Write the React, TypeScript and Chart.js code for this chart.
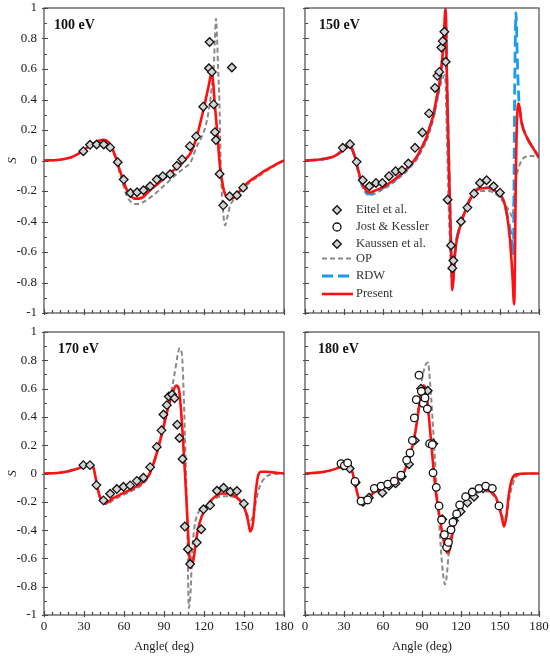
import React, { useEffect, useRef } from 'react';
import { Chart, registerables } from 'chart.js';

Chart.register(...registerables);

const FONT = "'Liberation Serif', 'Times New Roman', serif";
Chart.defaults.font.family = FONT;

// ---------- 100 eV ----------
const PRESENT_100_X = [0,10,20,25,30,35,40,44,47,50,53,56,59,62,65,68,71,75,80,85,90,95,100,105,110,114.5,119.5,123.3,125.8,127,128,129,130,131,132,133.5,135,137,139.5,142,145,149.5,155,160,165,170,175,180];
const PRESENT_100_Y = [0,0.003,0.02,0.04,0.07,0.1,0.125,0.135,0.13,0.1,0.04,-0.04,-0.12,-0.19,-0.23,-0.25,-0.25,-0.235,-0.19,-0.155,-0.118,-0.08,-0.045,0,0.05,0.155,0.33,0.48,0.575,0.5,0.38,0.28,0.18,0.06,-0.04,-0.13,-0.2,-0.24,-0.256,-0.245,-0.22,-0.17,-0.13,-0.1,-0.07,-0.045,-0.02,0];
const OP_100_X = [0,10,20,30,40,44,47,50,53,56,59,62,65,68,71,75,80,85,90,95,100,105,110,114.5,118,121,123,124.8,126,127.3,128.2,129,129.8,130.6,131.5,132.5,133.3,134.2,135.8,137.5,139.5,142,145,150,155,160,165,170,175,180];
const OP_100_Y = [0,0.003,0.02,0.065,0.115,0.125,0.12,0.09,0.03,-0.06,-0.15,-0.23,-0.27,-0.285,-0.285,-0.27,-0.24,-0.205,-0.165,-0.125,-0.085,-0.05,-0.01,0.09,0.15,0.22,0.3,0.4,0.5,0.61,0.8,0.93,0.8,0.6,0.4,0,-0.2,-0.32,-0.425,-0.37,-0.3,-0.26,-0.23,-0.18,-0.14,-0.11,-0.08,-0.05,-0.025,0];
const KAUSSEN_100_X = [29.5,34.5,39.5,44.8,49.6,55.3,59.8,64.8,69.8,74.6,79.6,84.6,89.1,94.6,99.6,103.6,109.4,114.1,119.4,123.7,124.2,125.9,127.2,128.2,128.9,131.7,134.4,139.2,140.9,144.7,149.4];
const KAUSSEN_100_Y = [0.061,0.103,0.105,0.105,0.086,-0.011,-0.125,-0.213,-0.208,-0.195,-0.169,-0.125,-0.103,-0.09,-0.035,0.007,0.094,0.158,0.353,0.605,0.777,0.581,0.368,0.186,0.134,-0.088,-0.294,-0.235,0.61,-0.228,-0.178];

// ---------- 150 eV ----------
const PRESENT_150_X = [0,10,20,25,29,33,35,36.5,38.4,41,43.5,46.9,49.5,53,57.7,63,68,73,78.2,82,85.9,90,93.6,96,98.7,101,103.8,106.4,108.2,109,110.1,111.4,112.7,113.3,114.1,115.4,116.7,119.2,124.4,129.5,134.6,141,147.4,152.6,155.6,157.7,159.5,160.9,162.3,163.3,164.5,166.7,170.5,175.6,180];
const PRESENT_150_Y = [0,0.005,0.02,0.04,0.068,0.09,0.096,0.07,0.024,-0.064,-0.14,-0.195,-0.21,-0.2,-0.184,-0.16,-0.13,-0.095,-0.053,-0.02,0.024,0.09,0.156,0.22,0.298,0.4,0.528,0.748,1.0,0.61,0.18,-0.26,-0.7,-0.85,-0.786,-0.61,-0.523,-0.436,-0.305,-0.217,-0.184,-0.18,-0.206,-0.26,-0.37,-0.523,-0.742,-0.943,-0.04,0.31,0.374,0.243,0.155,0.079,0.02];
const RDW_150_X = [0,10,20,25,29,33,35,36.5,38.4,41,43.5,46.9,49.5,53,57.7,63,68,73,78.2,82,85.9,90,93.6,96,98.7,101,103.8,106.4,108.2,109,110.1,111.4,112.7,113.3,114.1,115.4,116.7,119.2,124.4,129.5,134.6,141,147.4,152.6,155.6,157.7,159.2,160.3,160.8,161.4,162.3,163.2,164.2,165,167,170.5,175.6,180];
const RDW_150_Y = [0,0.005,0.02,0.04,0.066,0.088,0.094,0.068,0.02,-0.07,-0.15,-0.205,-0.22,-0.21,-0.19,-0.165,-0.135,-0.1,-0.058,-0.025,0.02,0.085,0.15,0.215,0.29,0.39,0.51,0.72,0.95,0.6,0.18,-0.26,-0.68,-0.82,-0.77,-0.6,-0.515,-0.43,-0.3,-0.212,-0.18,-0.178,-0.205,-0.26,-0.36,-0.45,-0.52,-0.62,-0.1,0.55,0.97,0.7,0.45,0.34,0.24,0.155,0.079,0.02];
const OP_150_X = [0,10,20,25,29,33,35,36.5,38.4,41,43.5,46.9,50,53,57.7,63,68,73,78.2,82,85.9,90,93.6,96,98.7,101,103.8,106,107.7,109,110.5,112,113.3,114.5,116,119.2,124.4,129.5,134.6,141,147.4,152.6,155.6,157.7,159.5,161.5,163,165,168.7,175,180];
const OP_150_Y = [0,0.005,0.02,0.04,0.065,0.087,0.092,0.065,0.015,-0.075,-0.16,-0.215,-0.228,-0.22,-0.2,-0.175,-0.145,-0.11,-0.07,-0.035,0.005,0.07,0.13,0.19,0.27,0.36,0.48,0.54,0.56,0.2,-0.3,-0.65,-0.75,-0.7,-0.55,-0.43,-0.31,-0.23,-0.2,-0.2,-0.225,-0.27,-0.31,-0.34,-0.37,-0.17,-0.09,-0.03,0.02,0.03,0.02];
const KAUSSEN_150_X = [29.0,34.6,39.7,44.4,49.5,54.6,59.5,64.6,69.7,74.6,79.5,84.6,90.3,95.4,100,101.8,103.3,104.9,105.9,107.2,108.2,109.7,112.3,113.3,114.1,120,124.9,130,134.6,139.7,145.1,150];
const KAUSSEN_150_Y = [0.083,0.107,-0.009,-0.129,-0.169,-0.147,-0.147,-0.103,-0.07,-0.064,-0.02,0.083,0.184,0.309,0.476,0.555,0.581,0.741,0.783,0.844,0.647,-0.257,-0.557,-0.706,-0.656,-0.4,-0.309,-0.217,-0.147,-0.129,-0.169,-0.211];

// ---------- 170 eV ----------
const PRESENT_170_X = [0,10,16.5,23,29,34.5,37.3,39.5,41.5,44,46,51.6,59,66.6,74.1,79,84.1,89.1,92.9,96.6,99.1,101.1,102.6,104.1,105.6,107.1,108.6,110.1,112.1,114.1,116.6,120.4,126.7,134.2,141.7,146.7,150.4,152.9,154.7,156.7,158.7,160.4,162.9,166.7,174.2,180];
const PRESENT_170_Y = [0,0.004,0.012,0.028,0.047,0.066,0.035,-0.07,-0.152,-0.2,-0.211,-0.176,-0.141,-0.106,-0.063,-0.005,0.129,0.305,0.457,0.574,0.621,0.598,0.469,0.258,0.023,-0.234,-0.516,-0.668,-0.61,-0.469,-0.352,-0.258,-0.176,-0.141,-0.152,-0.188,-0.246,-0.328,-0.41,-0.352,-0.141,-0.023,0.012,0.012,0.005,0];
const OP_170_X = [0,10,16.5,23,29,34.5,37.3,39.5,41.5,44,46,48,51.6,59,66.6,74.1,79,84.1,89.1,94.1,97.9,100.4,101.6,103.4,104.6,105.6,106.6,107.6,108.6,109.9,111.1,112.9,115.4,120.4,126.7,134.2,141.7,148,152,154.9,156.7,159.2,161.7,166.7,171.7,180];
const OP_170_Y = [0,0.004,0.012,0.027,0.045,0.062,0.03,-0.075,-0.16,-0.208,-0.218,-0.215,-0.19,-0.155,-0.12,-0.075,-0.015,0.12,0.33,0.516,0.703,0.844,0.886,0.844,0.61,0.305,-0.047,-0.445,-0.95,-0.844,-0.563,-0.375,-0.281,-0.24,-0.185,-0.16,-0.165,-0.2,-0.28,-0.328,-0.305,-0.188,-0.094,-0.023,-0.005,0];
const EITEL_170_X = [29.5,34.5,39.3,44.6,49.6,54.6,59.6,64.6,69.6,74.6,79.6,84.6,88.1,89.6,92.1,93.6,96.1,97.9,99.9,101.6,103.9,105.6,107.9,109.6,114.6,117.9,119.6,124.6,129.7,134.7,139.7,144.7,149.9];
const EITEL_170_Y = [0.059,0.059,-0.082,-0.19,-0.143,-0.11,-0.094,-0.084,-0.052,-0.03,0.045,0.188,0.305,0.417,0.483,0.544,0.558,0.532,0.345,0.251,0.103,-0.375,-0.535,-0.64,-0.488,-0.394,-0.253,-0.225,-0.122,-0.101,-0.129,-0.124,-0.213];

// ---------- 180 eV ----------
const PRESENT_180_X = [0,10,18.5,27.7,32.6,34.4,36.4,38.5,41,43.6,46.7,51.8,59.5,67.2,73.6,77.4,81.3,85.1,87.7,89.7,91,92.8,94.6,96.7,98.5,100.5,103.1,105.6,107.7,109.5,111.3,113.3,115.9,119.7,124.9,131.3,137.7,142.8,146.7,149.2,151.3,153.1,154.9,156.9,159.5,163.3,169.7,180];
const PRESENT_180_Y = [0,0.006,0.019,0.047,0.066,0.059,0.012,-0.07,-0.164,-0.199,-0.187,-0.141,-0.1,-0.07,-0.028,0.035,0.141,0.304,0.468,0.585,0.621,0.597,0.468,0.258,0.07,-0.117,-0.281,-0.422,-0.515,-0.562,-0.539,-0.433,-0.328,-0.246,-0.176,-0.129,-0.112,-0.129,-0.164,-0.234,-0.304,-0.375,-0.304,-0.141,-0.035,-0.005,0,0];
const OP_180_X = [0,10,18.5,27.7,32.6,34.4,36.4,38.5,41,43.6,46.7,51.8,59.5,67.2,73.6,77.4,81.3,85.1,89,92,94.6,96.1,97.9,100,102.3,104.4,106.1,107.7,109,110.8,112.8,115.9,120,125,130,138,143,147,150,153,155,157,160,163,168,180];
const OP_180_Y = [0,0.006,0.018,0.045,0.062,0.055,0.008,-0.075,-0.17,-0.205,-0.195,-0.15,-0.11,-0.078,-0.035,0.03,0.14,0.31,0.61,0.75,0.785,0.656,0.42,0.094,-0.234,-0.515,-0.703,-0.785,-0.726,-0.539,-0.398,-0.304,-0.26,-0.19,-0.15,-0.125,-0.14,-0.18,-0.25,-0.32,-0.3,-0.18,-0.07,-0.02,-0.005,0];
const JOST_180_X = [27.7,30.3,32.8,38.5,43.1,48.2,53.3,58.5,63.6,68.7,73.8,78.2,80.8,82.6,84.1,85.6,87.7,89.5,91.0,92.3,94.1,95.9,97.9,98.5,101.0,103.1,105.1,107.2,109.0,110.3,112.3,113.8,116.7,119.0,123.6,128.7,133.8,139.0,144.1,149.2];
const JOST_180_Y = [0.07,0.056,0.075,-0.056,-0.195,-0.187,-0.105,-0.089,-0.075,-0.054,-0.012,0.094,0.145,0.234,0.393,0.522,0.695,0.581,0.496,0.534,0.457,0.211,0.204,0.005,-0.098,-0.229,-0.328,-0.433,-0.522,-0.487,-0.398,-0.344,-0.286,-0.222,-0.164,-0.131,-0.105,-0.089,-0.105,-0.229];
const KAUSSEN_180_X = [29.2,34.4,39.0,44.6,49.2,59.5,64.6,69.7,74.4,80.0,84.4,89.2,94.4,98.7,105.6,109.2,114.6,119.7,124.9,130.0,136.9];
const KAUSSEN_180_Y = [0.056,0.035,-0.063,-0.199,-0.171,-0.136,-0.087,-0.07,-0.023,0.066,0.234,0.6,0.585,0.211,-0.323,-0.515,-0.333,-0.269,-0.206,-0.164,-0.105];

const LEGEND_LABELS = ['Eitel et al.', 'Jost & Kessler', 'Kaussen et al.', 'OP', 'RDW', 'Present'];
const PANEL_LABELS = ['100 eV', '150 eV', '170 eV', '180 eV'];

const RED = '#ff1010';
const GREY = '#8a8a8a';
const BLUE = '#1a9cf0';
const DIAMOND_FILL = '#d4d4d4';
const GREY_DASH = [5, 3];
const BLUE_DASH = [11, 5];

const pts = (xs: number[], ys: number[]) => xs.map((x, i) => ({ x, y: ys[i] }));

function curve(label: string, xs: number[], ys: number[], color: string, width: number, dash: number[], order: number) {
  return {
    label,
    data: pts(xs, ys),
    showLine: true,
    borderColor: color,
    backgroundColor: color,
    borderWidth: width,
    borderDash: dash,
    pointRadius: 0,
    pointHoverRadius: 0,
    fill: false,
    cubicInterpolationMode: 'monotone',
    order,
  };
}

function marks(label: string, xs: number[], ys: number[], style: string, fill: string, radius: number, order: number) {
  return {
    label,
    data: pts(xs, ys),
    showLine: false,
    pointStyle: style,
    pointRadius: radius,
    pointHoverRadius: radius,
    pointBackgroundColor: fill,
    pointBorderColor: '#111',
    pointBorderWidth: 1.3,
    order,
  };
}

function drawDiamond(ctx: CanvasRenderingContext2D, x: number, y: number, r: number, fill: string) {
  ctx.beginPath();
  ctx.moveTo(x, y - r);
  ctx.lineTo(x + r, y);
  ctx.lineTo(x, y + r);
  ctx.lineTo(x - r, y);
  ctx.closePath();
  ctx.fillStyle = fill;
  ctx.fill();
  ctx.lineWidth = 1.3;
  ctx.strokeStyle = '#111';
  ctx.stroke();
}

const framePlugin = {
  id: 'frame',
  afterDatasetsDraw(chart: any, _args: any, opts: any) {
    const { ctx, chartArea: a, scales } = chart;
    const xs = scales.x;
    const ys = scales.y;
    ctx.save();
    ctx.setLineDash([]);
    ctx.strokeStyle = '#4a4a4a';
    ctx.lineWidth = 1.2;
    ctx.strokeRect(a.left, a.top, a.right - a.left, a.bottom - a.top);
    ctx.beginPath();
    for (let v = 0; v <= 180; v += 6) {
      const px = Math.round(xs.getPixelForValue(v)) + 0.5;
      const major = v % 30 === 0;
      ctx.moveTo(px, a.bottom + (major ? 2 : 0));
      ctx.lineTo(px, a.bottom - (major ? 4 : 3));
    }
    for (let k = -10; k <= 10; k++) {
      const py = Math.round(ys.getPixelForValue(k / 10)) + 0.5;
      const major = k % 2 === 0;
      ctx.moveTo(a.left - (major ? 2 : 0), py);
      ctx.lineTo(a.left + (major ? 4 : 3), py);
    }
    ctx.stroke();

    ctx.fillStyle = '#111';
    ctx.font = `bold 14px ${FONT}`;
    ctx.textBaseline = 'alphabetic';
    ctx.textAlign = 'left';
    ctx.fillText(opts.label, a.left + opts.labelDx, a.top + 21);

    if (opts.legend) {
      const bx = a.left;
      const by = a.top;
      const rows = [202, 219, 236, 250.5, 268, 286];
      const mx = bx + 32;
      drawDiamond(ctx, mx, by + rows[0], 4.3, DIAMOND_FILL);
      ctx.beginPath();
      ctx.arc(mx, by + rows[1], 4, 0, Math.PI * 2);
      ctx.fillStyle = '#fff';
      ctx.fill();
      ctx.lineWidth = 1.3;
      ctx.strokeStyle = '#111';
      ctx.stroke();
      drawDiamond(ctx, mx, by + rows[2], 4.3, DIAMOND_FILL);
      const lines = [
        { c: GREY, w: 2, d: GREY_DASH },
        { c: BLUE, w: 2.8, d: BLUE_DASH },
        { c: RED, w: 2.6, d: [] as number[] },
      ];
      lines.forEach((l, i) => {
        ctx.beginPath();
        ctx.setLineDash(l.d);
        ctx.strokeStyle = l.c;
        ctx.lineWidth = l.w;
        ctx.moveTo(bx + 17, by + rows[3 + i]);
        ctx.lineTo(bx + 48, by + rows[3 + i]);
        ctx.stroke();
      });
      ctx.setLineDash([]);
      ctx.fillStyle = '#333';
      ctx.font = `12.5px ${FONT}`;
      ctx.textBaseline = 'middle';
      LEGEND_LABELS.forEach((t, i) => ctx.fillText(t, bx + 51, by + rows[i]));
    }
    ctx.restore();
  },
};

type Spec = {
  left: number; top: number; width: number; height: number;
  padTop: number; padRight: number; yW: number; xH: number;
  showX: boolean; showY: boolean; xTitle: string; label: string; labelDx: number; legend: boolean;
  datasets: () => any[];
};

function buildConfig(s: Spec): any {
  const zeroPad = (sc: any) => { sc.paddingLeft = 0; sc.paddingRight = 0; sc.paddingTop = 0; sc.paddingBottom = 0; };
  return {
    type: 'scatter',
    data: { datasets: s.datasets() },
    plugins: [framePlugin],
    options: {
      animation: false,
      responsive: true,
      maintainAspectRatio: false,
      events: [],
      layout: { padding: { left: 0, top: s.padTop, right: s.padRight, bottom: 0 } },
      plugins: {
        legend: { display: false },
        tooltip: { enabled: false },
        frame: { label: s.label, labelDx: s.labelDx, legend: s.legend },
      },
      scales: {
        x: {
          type: 'linear', min: 0, max: 180,
          afterFit: (sc: any) => { sc.height = s.xH; zeroPad(sc); },
          grid: { display: false, drawTicks: false },
          border: { display: false },
          ticks: { display: s.showX, stepSize: 30, padding: 4, color: '#1a1a1a', font: { size: 13 }, maxRotation: 0, autoSkip: false },
          title: { display: s.showX, text: s.xTitle, color: '#1a1a1a', font: { size: 12.5 }, padding: { top: 0, bottom: 3 } },
        },
        y: {
          type: 'linear', min: -1, max: 1,
          afterFit: (sc: any) => { sc.width = s.yW; zeroPad(sc); },
          grid: { display: false, drawTicks: false },
          border: { display: false },
          ticks: {
            display: s.showY, stepSize: 0.2, padding: 7, color: '#1a1a1a', font: { size: 13 },
            callback: (v: any) => String(Math.round(Number(v) * 10) / 10),
          },
          title: { display: s.showY, text: 'S', color: '#1a1a1a', font: { size: 13, style: 'italic' }, padding: { top: 5, bottom: 0 } },
        },
      },
    },
  };
}

const SPECS: Spec[] = [
  {
    left: 0, top: 0, width: 300, height: 322, padTop: 8, padRight: 16, yW: 44, xH: 9,
    showX: false, showY: true, xTitle: '', label: PANEL_LABELS[0], labelDx: 10, legend: false,
    datasets: () => [
      marks('Kaussen et al.', KAUSSEN_100_X, KAUSSEN_100_Y, 'rectRot', DIAMOND_FILL, 4.3, 0),
      curve('Present', PRESENT_100_X, PRESENT_100_Y, RED, 2.6, [], 1),
      curve('OP', OP_100_X, OP_100_Y, GREY, 2, GREY_DASH, 3),
    ],
  },
  {
    left: 296, top: 0, width: 254, height: 322, padTop: 8, padRight: 11, yW: 9, xH: 9,
    showX: false, showY: false, xTitle: '', label: PANEL_LABELS[1], labelDx: 14, legend: true,
    datasets: () => [
      marks('Kaussen et al.', KAUSSEN_150_X, KAUSSEN_150_Y, 'rectRot', DIAMOND_FILL, 4.3, 0),
      curve('Present', PRESENT_150_X, PRESENT_150_Y, RED, 2.6, [], 1),
      curve('RDW', RDW_150_X, RDW_150_Y, BLUE, 2.8, BLUE_DASH, 2),
      curve('OP', OP_150_X, OP_150_Y, GREY, 2, GREY_DASH, 3),
    ],
  },
  {
    left: 0, top: 322, width: 300, height: 335, padTop: 10, padRight: 16, yW: 44, xH: 42,
    showX: true, showY: true, xTitle: 'Angle( deg)', label: PANEL_LABELS[2], labelDx: 14, legend: false,
    datasets: () => [
      marks('Eitel et al.', EITEL_170_X, EITEL_170_Y, 'rectRot', DIAMOND_FILL, 4.3, 0),
      curve('Present', PRESENT_170_X, PRESENT_170_Y, RED, 2.6, [], 1),
      curve('OP', OP_170_X, OP_170_Y, GREY, 2, GREY_DASH, 3),
    ],
  },
  {
    left: 296, top: 322, width: 254, height: 335, padTop: 10, padRight: 11, yW: 9, xH: 42,
    showX: true, showY: false, xTitle: 'Angle (deg)', label: PANEL_LABELS[3], labelDx: 13, legend: false,
    datasets: () => [
      marks('Jost & Kessler', JOST_180_X, JOST_180_Y, 'circle', '#ffffff', 3.8, 0),
      marks('Kaussen et al.', KAUSSEN_180_X, KAUSSEN_180_Y, 'rectRot', DIAMOND_FILL, 4.3, 1),
      curve('Present', PRESENT_180_X, PRESENT_180_Y, RED, 2.6, [], 2),
      curve('OP', OP_180_X, OP_180_Y, GREY, 2, GREY_DASH, 3),
    ],
  },
];

function Panel({ spec }: { spec: Spec }) {
  const ref = useRef<HTMLCanvasElement>(null);
  useEffect(() => {
    const chart = new Chart(ref.current as HTMLCanvasElement, buildConfig(spec));
    return () => chart.destroy();
  }, [spec]);
  return (
    <div style={{ position: 'absolute', left: spec.left, top: spec.top, width: spec.width, height: spec.height }}>
      <canvas ref={ref} />
    </div>
  );
}

export default function App() {
  return (
    <div style={{ position: 'absolute', left: 0, top: 0, width: 550, height: 657, background: '#fff', overflow: 'hidden' }}>
      {SPECS.map((s, i) => (
        <Panel key={i} spec={s} />
      ))}
    </div>
  );
}
